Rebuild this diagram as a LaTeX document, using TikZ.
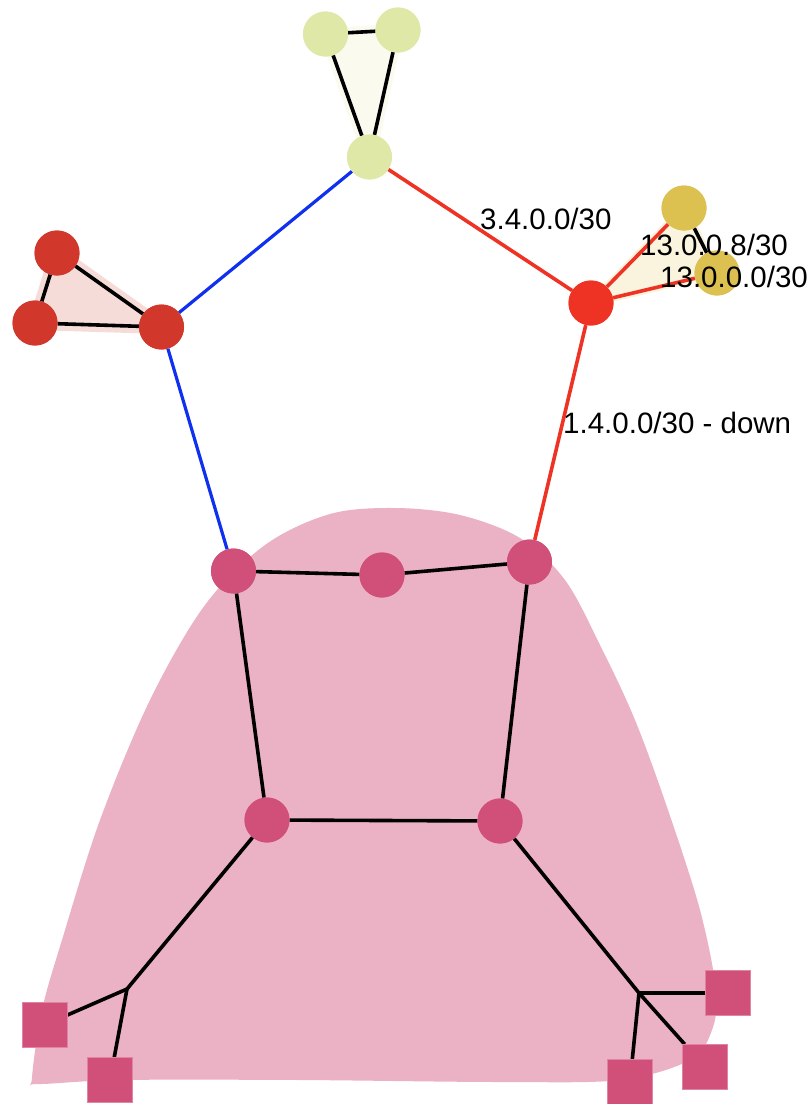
\documentclass[tikz,border=0pt]{standalone}
\usepackage{fontspec}
\setmainfont{Liberation Sans}
\begin{document}
\begin{tikzpicture}[x=1pt,y=-1pt,
  vert/.style={circle,draw=none,minimum size=45pt,inner sep=0pt},
  sq/.style={rectangle,draw=#1!70!white,line width=0.6pt,fill=#1,minimum size=45pt,inner sep=0pt},
  blk/.style={line width=3.6pt,black},
  rd/.style={line width=3.6pt,red1},
  bl/.style={line width=3.2pt,blue1},
  lab/.style={anchor=west,inner sep=0pt,font=\fontsize{29.5}{33}\selectfont},
]
\definecolor{blob}{HTML}{EBB1C5}
\definecolor{pk}{HTML}{D1507A}
\definecolor{yg}{HTML}{E0E8A8}
\definecolor{ygh}{HTML}{FAFBEE}
\definecolor{dr}{HTML}{D1372A}
\definecolor{drh}{HTML}{F6DCD8}
\definecolor{red1}{HTML}{EE3324}
\definecolor{gold}{HTML}{DCC050}
\definecolor{goldh}{HTML}{FAF4DF}
\definecolor{blue1}{HTML}{1030F0}
\useasboundingbox (0,0) rectangle (810,1104);
% blob
\fill[blob] plot[smooth cycle,tension=0.55] coordinates {(32,1078) (42,1010) (62,940) (100,820) (150,700) (205,605) (265,545) (330,514) (395,508) (460,515) (520,538) (565,580) (600,645) (635,720) (668,810) (700,910) (716,990) (712,1030) (690,1060) (620,1080) (500,1082) (300,1080) (120,1080) (38,1084)};
% coordinates of nodes
\coordinate (t1) at (325.5,34);
\coordinate (t2) at (398,30);
\coordinate (t3) at (369.5,157);
\coordinate (l1) at (57,253);
\coordinate (l2) at (35,323);
\coordinate (l3) at (161.5,327);
\coordinate (r) at (591,303);
\coordinate (g1) at (684,208);
\coordinate (g2) at (717,273);
% hulls
\filldraw[fill=ygh,draw=ygh,line width=12pt,line join=round] (t1) -- (t2) -- (t3) -- cycle;
\filldraw[fill=drh,draw=drh,line width=14pt,line join=round] (l1) -- (l2) -- (l3) -- cycle;
\filldraw[fill=goldh,draw=goldh,line width=8pt,line join=round] (r) -- (g1) -- (g2) -- cycle;
% nodes
\node[vert,fill=yg] (T1) at (t1) {};
\node[vert,fill=yg] (T2) at (t2) {};
\node[vert,fill=yg] (T3) at (t3) {};
\node[vert,fill=dr] (L1) at (l1) {};
\node[vert,fill=dr] (L2) at (l2) {};
\node[vert,fill=dr] (L3) at (l3) {};
\node[vert,fill=red1] (R) at (r) {};
\node[vert,fill=gold] (G1) at (g1) {};
\node[vert,fill=gold] (G2) at (g2) {};
\node[vert,fill=pk] (P1) at (233.5,571) {};
\node[vert,fill=pk] (P2) at (382,575) {};
\node[vert,fill=pk] (P3) at (529.5,562) {};
\node[vert,fill=pk] (P4) at (267,820) {};
\node[vert,fill=pk] (P5) at (500,821) {};
\coordinate (J1) at (127,989);
\coordinate (J2) at (639,993);
\node[sq=pk] (S1) at (44.5,1025) {};
\node[sq=pk] (S2) at (110,1080) {};
\node[sq=pk] (S3) at (728,993) {};
\node[sq=pk] (S4) at (705,1067) {};
\node[sq=pk] (S5) at (630,1082) {};
% edges
\draw[blk] (T1) -- (T2);
\draw[blk] (T1) -- (T3);
\draw[blk] (T2) -- (T3);
\draw[blk] (L1) -- (L2);
\draw[blk] (L1) -- (L3);
\draw[blk] (L2) -- (L3);
\draw[blk] (G1) -- (G2);
\draw[bl] (T3) -- (L3);
\draw[bl] (L3) -- (P1);
\draw[rd] (T3) -- (R);
\draw[rd] (R) -- (P3);
\draw[rd] (R) -- (G1);
\draw[rd] (R) -- (G2);
\draw[blk] (P1) -- (P2);
\draw[blk] (P2) -- (P3);
\draw[blk] (P1) -- (P4);
\draw[blk] (P3) -- (P5);
\draw[blk] (P4) -- (P5);
\draw[blk] (P4) -- (J1);
\draw[blk] (J1) -- (S1);
\draw[blk] (J1) -- (S2);
\draw[blk] (P5) -- (J2);
\draw[blk] (J2) -- (S3);
\draw[blk] (J2) -- (S4);
\draw[blk] (J2) -- (S5);
% redraw nodes on top
\foreach \n/\c in {T1/yg,T2/yg,T3/yg,L1/dr,L2/dr,L3/dr,R/red1,G1/gold,G2/gold,P1/pk,P2/pk,P3/pk,P4/pk,P5/pk}
  \fill[\c] (\n) circle (22.5pt);
\foreach \n in {S1,S2,S3,S4,S5}
  \filldraw[fill=pk,draw=pk!70!white,line width=0.6pt] ([shift={(-22.5pt,-22.5pt)}]\n.center) rectangle ([shift={(22.5pt,22.5pt)}]\n.center);
% labels
\node[lab] (lab1) at (480,219) {3.4.0.0/30};
\node[lab] (lab2) at (563,423) {1.4.0.0/30 - down};
\node[lab] (lab3) at (640,245) {13.0.0.8/30};
\node[lab] (lab4) at (660,277) {13.0.0.0/30};
\end{tikzpicture}
\end{document}
